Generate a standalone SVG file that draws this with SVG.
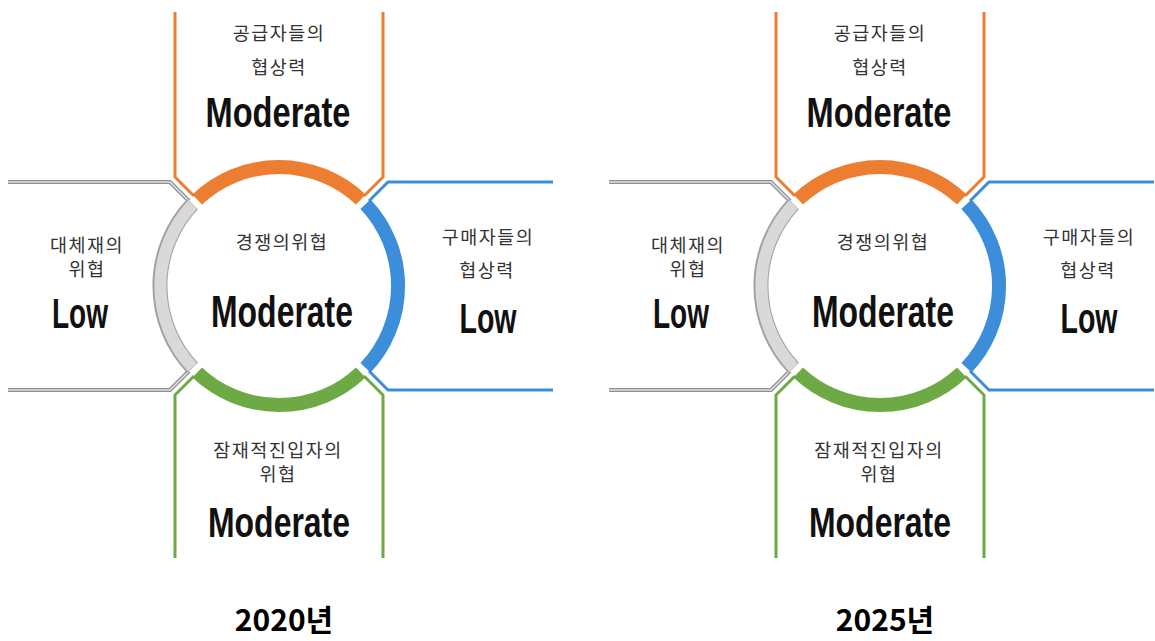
<svg xmlns="http://www.w3.org/2000/svg" width="1155" height="641" viewBox="0 0 1155 641">
<style>
.bg{fill:#ffffff}
.ln{fill:none;stroke-width:3;stroke-linejoin:miter;stroke-linecap:butt}
.or{stroke:#ED7D31}
.bl{stroke:#3C8EDB}
.gr{stroke:#6DAA45}
.gyo{fill:none;stroke:#8E8E8E;stroke-width:4}
.gyi{fill:none;stroke:#E2E2E2;stroke-width:1.6}
.ring{fill:none;stroke-width:14;stroke-linecap:butt}
.gro{fill:none;stroke:#A2A2A2;stroke-width:15;stroke-linecap:butt}
.gri{fill:none;stroke:#D9D9D9;stroke-width:12;stroke-linecap:butt}
.ko{font-family:"Noto Sans CJK KR","Noto Sans",sans-serif;font-size:18.5px;fill:#333333;letter-spacing:1.5px;text-anchor:middle}
.en{font-family:"Liberation Sans Narrow","Liberation Sans",sans-serif;font-weight:bold;font-size:42px;fill:#111111;text-anchor:middle}
.yr{font-family:"Noto Sans CJK KR","Noto Sans",sans-serif;font-weight:bold;font-size:30px;fill:#000000;text-anchor:middle}
</style>
<rect class="bg" x="0" y="0" width="1155" height="641"/>
<defs>
<g id="panel">
  <g id="connectors">
    <path class="ln or" d="M175,12 V177 L194,196"/>
    <path class="ln or" d="M383,12 V177 L364,196"/>
    <path class="ln bl" d="M553,182 H388 L369,201"/>
    <path class="ln bl" d="M553,390 H388 L369,371"/>
    <path class="ln gr" d="M175,558 V395 L194,376"/>
    <path class="ln gr" d="M383,558 V395 L364,376"/>
    <path class="gyo" d="M8,182 H170 L189,201"/>
    <path class="gyi" d="M8,182 H170 L189,201"/>
    <path class="gyo" d="M8,390 H170 L189,371"/>
    <path class="gyi" d="M8,390 H170 L189,371"/>
  </g>
  <path class="ring or" d="M197.2,199.5 A119,119 0 0 1 360.8,199.5"/>
  <path class="ring bl" d="M365.5,204.2 A119,119 0 0 1 365.5,367.8"/>
  <path class="ring gr" d="M360.8,372.5 A119,119 0 0 1 197.2,372.5"/>
  <path class="gro" d="M192.5,367.8 A119,119 0 0 1 192.5,204.2"/>
  <path class="gri" d="M192.5,367.3 A119,119 0 0 1 192.5,204.7"/>
</g>
</defs>

<g id="panel-2020">
  <use href="#panel"/>
  <g id="supplier-2020">
    <text class="ko" x="279" y="40">공급자들의</text>
    <text class="ko" x="279" y="74">협상력</text>
    <text class="en" x="278" y="127" textLength="145" lengthAdjust="spacingAndGlyphs">Moderate</text>
  </g>
  <g id="rivalry-2020">
    <text class="ko" x="282" y="249">경쟁의위협</text>
    <text class="en" x="282" y="327" style="font-size:44px" textLength="142" lengthAdjust="spacingAndGlyphs">Moderate</text>
  </g>
  <g id="substitute-2020">
    <text class="ko" x="87" y="252">대체재의</text>
    <text class="ko" x="87" y="276">위협</text>
    <text class="en" x="80" y="328" textLength="56" lengthAdjust="spacingAndGlyphs">Low</text>
  </g>
  <g id="buyer-2020">
    <text class="ko" x="488" y="244">구매자들의</text>
    <text class="ko" x="487" y="277">협상력</text>
    <text class="en" x="488" y="333" textLength="57" lengthAdjust="spacingAndGlyphs">Low</text>
  </g>
  <g id="entrant-2020">
    <text class="ko" x="278" y="457">잠재적진입자의</text>
    <text class="ko" x="278" y="481">위협</text>
    <text class="en" x="279" y="537" textLength="142" lengthAdjust="spacingAndGlyphs">Moderate</text>
  </g>
  <text class="yr" x="284" y="631">2020년</text>
</g>

<g id="panel-2025" transform="translate(601,0)">
  <use href="#panel"/>
  <g id="supplier-2025">
    <text class="ko" x="279" y="40">공급자들의</text>
    <text class="ko" x="279" y="74">협상력</text>
    <text class="en" x="278" y="127" textLength="145" lengthAdjust="spacingAndGlyphs">Moderate</text>
  </g>
  <g id="rivalry-2025">
    <text class="ko" x="282" y="249">경쟁의위협</text>
    <text class="en" x="282" y="327" style="font-size:44px" textLength="142" lengthAdjust="spacingAndGlyphs">Moderate</text>
  </g>
  <g id="substitute-2025">
    <text class="ko" x="87" y="252">대체재의</text>
    <text class="ko" x="87" y="276">위협</text>
    <text class="en" x="80" y="328" textLength="56" lengthAdjust="spacingAndGlyphs">Low</text>
  </g>
  <g id="buyer-2025">
    <text class="ko" x="488" y="244">구매자들의</text>
    <text class="ko" x="487" y="277">협상력</text>
    <text class="en" x="488" y="333" textLength="57" lengthAdjust="spacingAndGlyphs">Low</text>
  </g>
  <g id="entrant-2025">
    <text class="ko" x="278" y="457">잠재적진입자의</text>
    <text class="ko" x="278" y="481">위협</text>
    <text class="en" x="279" y="537" textLength="142" lengthAdjust="spacingAndGlyphs">Moderate</text>
  </g>
  <text class="yr" x="284" y="631">2025년</text>
</g>
</svg>
